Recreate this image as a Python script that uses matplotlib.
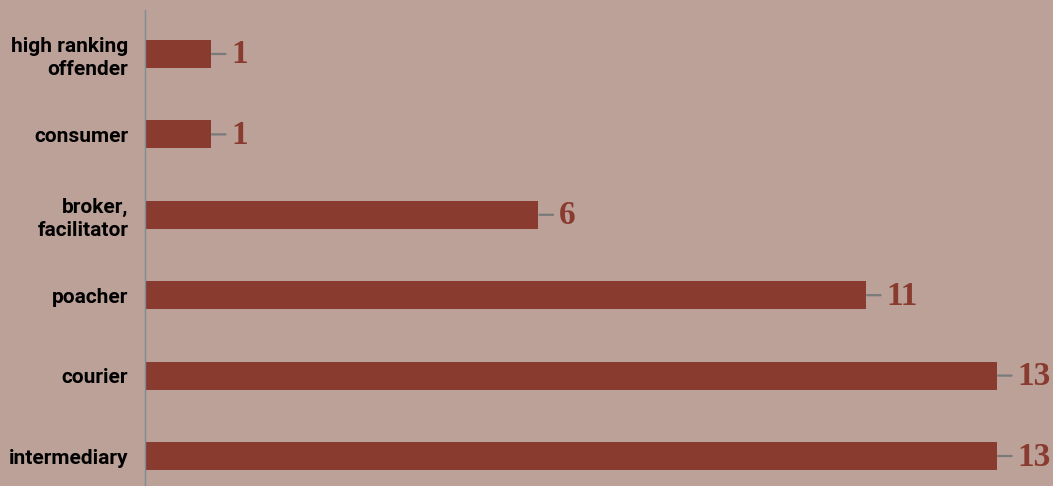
import matplotlib.pyplot as plt

categories = ["intermediary", "courier", "poacher", "broker,\nfacilitator",
              "consumer", "high ranking\noffender"]
counts = [13, 13, 11, 6, 1, 1]

bg = "#BCA198"
bar_col = "#8A3B2F"

fig = plt.figure(figsize=(10.53, 4.86), dpi=100, facecolor=bg)
ax = fig.add_axes([145 / 1053, 0, 1 - 145 / 1053, 476 / 486])
ax.set_facecolor(bg)

pos = list(range(len(categories)))
ax.barh(pos, counts, height=0.35, color=bar_col)

ax.set_xlim(0, 13.86)
ax.set_ylim(-0.373, 5.547)

ax.set_yticks(pos)
ax.set_yticklabels(categories, fontsize=15, fontweight="bold",
                   family=["Liberation Sans Narrow", "Roboto", "DejaVu Sans"])
for t in ax.get_yticklabels():
    t.set_linespacing(1.3)
ax.tick_params(axis="y", length=0, pad=12)
ax.set_xticks([])

for s in ["top", "right", "bottom"]:
    ax.spines[s].set_visible(False)
ax.spines["left"].set_color("#7f8c94")
ax.spines["left"].set_linewidth(1)

# small leader line + value label
for p, v in zip(pos, counts):
    ax.annotate("", xy=(v, p), xytext=(15, 0), textcoords="offset pixels",
                arrowprops=dict(arrowstyle="-", color="#7a7a7a", lw=1.6,
                                shrinkA=0, shrinkB=1))
    ax.annotate(str(v), xy=(v, p), xytext=(21, -1), textcoords="offset pixels",
                ha="left", va="center", fontsize=24, fontweight="bold",
                family=["Liberation Serif", "DejaVu Serif"], color=bar_col)

fig.savefig("out.png", dpi=100, facecolor=bg)
